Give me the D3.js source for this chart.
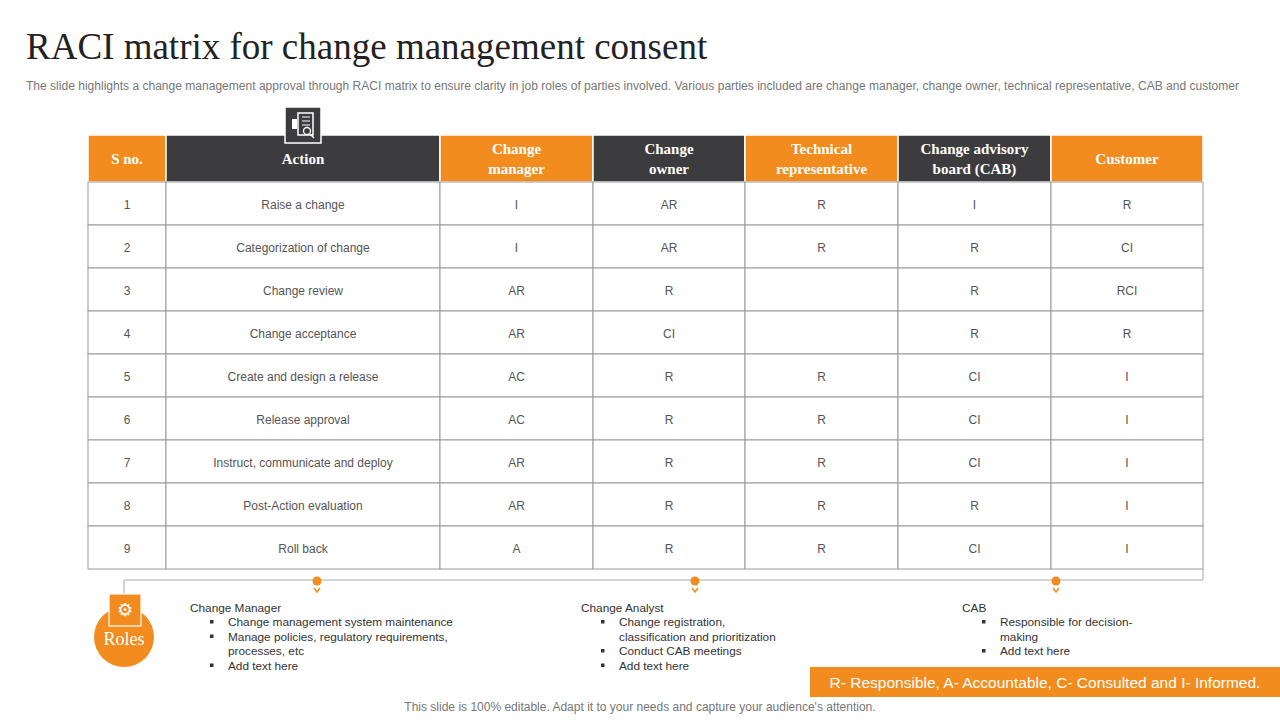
<!DOCTYPE html>
<html><head><meta charset="utf-8">
<script src="https://cdn.jsdelivr.net/npm/d3@7"></script>
<style>body{margin:0;background:#fff}svg{display:block}</style>
</head><body>
<svg id="c" width="1280" height="720"></svg>
<script>
// table data
const headers = [["S no."], ["Action"], ["Change", "manager"], ["Change", "owner"], ["Technical", "representative"], ["Change advisory", "board (CAB)"], ["Customer"]];
const headerDark = [false, true, false, true, false, true, false];
const actions = ["Raise a change", "Categorization of change", "Change review", "Change acceptance",
  "Create and design a release", "Release approval", "Instruct, communicate and deploy", "Post-Action evaluation", "Roll back"];
const changeManager = ["I", "I", "AR", "AR", "AC", "AC", "AR", "AR", "A"];
const changeOwner = ["AR", "AR", "R", "CI", "R", "R", "R", "R", "R"];
const technicalRep = ["R", "R", "", "", "R", "R", "R", "R", "R"];
const cab = ["I", "R", "R", "R", "CI", "CI", "CI", "R", "CI"];
const customer = ["R", "CI", "RCI", "R", "I", "I", "I", "I", "I"];
const roles = [
  {title: "Change Manager", items: [["Change management system maintenance"], ["Manage policies, regulatory requirements,", "processes, etc"], ["Add text here"]]},
  {title: "Change Analyst", items: [["Change registration,", "classification and prioritization"], ["Conduct CAB meetings"], ["Add text here"]]},
  {title: "CAB", items: [["Responsible for decision-", "making"], ["Add text here"]]}
];

const ORANGE = "#f28c1e", DARK = "#3c3c3e";
const svg = d3.select("#c");
const sans = "Arial, 'Liberation Sans', sans-serif", serif = "'Times New Roman', 'Liberation Serif', serif";

svg.append("text").attr("x", 26).attr("y", 59).attr("font-family", serif).attr("font-size", 37).attr("fill", "#222")
  .text("RACI matrix for change management consent");
svg.append("text").attr("x", 26).attr("y", 90).attr("font-family", sans).attr("font-size", 12).attr("fill", "#777")
  .attr("textLength", 1213).attr("lengthAdjust", "spacingAndGlyphs")
  .text("The slide highlights a change management approval through RACI matrix to ensure clarity in job roles of parties involved. Various parties included are change manager, change owner, technical representative, CAB and customer");

// column edges
const edges = [88, 166, 440, 593, 745, 898, 1051, 1203];
const headTop = 135, headBot = 182, tableBot = 569;
const y = d3.scaleBand().domain(d3.range(actions.length)).range([headBot, tableBot]);

const rows = actions.map((a, i) => [String(i + 1), a, changeManager[i], changeOwner[i], technicalRep[i], cab[i], customer[i]]);

const head = svg.append("g");
headers.forEach((h, j) => {
  const x0 = edges[j], x1 = edges[j + 1], cx = (x0 + x1) / 2;
  head.append("rect").attr("x", x0).attr("y", headTop).attr("width", x1 - x0).attr("height", headBot - headTop)
    .attr("fill", headerDark[j] ? DARK : ORANGE).attr("stroke", "#fff").attr("stroke-width", 1.5);
  const t = head.append("text").attr("text-anchor", "middle").attr("font-family", serif).attr("font-weight", "bold")
    .attr("font-size", 15).attr("fill", "#fff");
  const y0 = (headTop + headBot) / 2 + 5 - (h.length - 1) * 10;
  h.forEach((line, k) => t.append("tspan").attr("x", cx).attr("y", y0 + k * 20).text(line));
});

const body = svg.append("g");
rows.forEach((r, i) => {
  r.forEach((v, j) => {
    const x0 = edges[j], x1 = edges[j + 1];
    body.append("rect").attr("x", x0).attr("y", y(i)).attr("width", x1 - x0).attr("height", y.bandwidth())
      .attr("fill", "#fff").attr("stroke", "#9a9a9a").attr("stroke-width", 1);
    body.append("text").attr("x", (x0 + x1) / 2).attr("y", y(i) + y.bandwidth() / 2 + 5).attr("text-anchor", "middle")
      .attr("font-family", sans).attr("font-size", 12).attr("fill", "#555").text(v);
  });
});

// icon on Action header
const ic = svg.append("g").attr("transform", "translate(285,107)");
ic.append("rect").attr("width", 36).attr("height", 36).attr("fill", DARK).attr("stroke", "#fff").attr("stroke-width", 1.5);
ic.append("rect").attr("x", 13).attr("y", 6).attr("width", 15).attr("height", 22).attr("fill", "none").attr("stroke", "#fff").attr("stroke-width", 1.5);
ic.append("rect").attr("x", 7).attr("y", 12).attr("width", 5).attr("height", 10).attr("fill", "#fff");
[10, 14, 18].forEach(yy => ic.append("line").attr("x1", 17).attr("x2", 25).attr("y1", yy).attr("y2", yy).attr("stroke", "#fff"));
ic.append("circle").attr("cx", 22).attr("cy", 24).attr("r", 3.5).attr("fill", "none").attr("stroke", "#fff").attr("stroke-width", 1.3);
ic.append("line").attr("x1", 25).attr("y1", 27).attr("x2", 29).attr("y2", 31).attr("stroke", "#fff").attr("stroke-width", 1.5);

// roles connector line
svg.append("path").attr("d", "M1203,569 V580 H124 V596").attr("fill", "none").attr("stroke", "#aaa").attr("stroke-width", 1);
[317, 695, 1056].forEach(cx => {
  svg.append("circle").attr("cx", cx).attr("cy", 581).attr("r", 4.5).attr("fill", ORANGE);
  svg.append("path").attr("d", `M${cx - 3},588 L${cx},592 L${cx + 3},588`).attr("fill", "none").attr("stroke", ORANGE).attr("stroke-width", 1.5);
});
svg.append("circle").attr("cx", 124).attr("cy", 637).attr("r", 30).attr("fill", ORANGE);
svg.append("rect").attr("x", 109).attr("y", 594).attr("width", 32).attr("height", 32).attr("fill", ORANGE).attr("stroke", "#fff").attr("stroke-width", 1.2);
svg.append("text").attr("x", 125).attr("y", 616).attr("text-anchor", "middle").attr("font-size", 18).attr("fill", "#fff").text("⚙");
svg.append("text").attr("x", 124).attr("y", 645).attr("text-anchor", "middle").attr("font-family", serif).attr("font-size", 18).attr("fill", "#fff").text("Roles");

const roleX = [190, 581, 962];
roles.forEach((r, k) => {
  const g = svg.append("g").attr("transform", `translate(${roleX[k]},0)`).attr("font-family", sans).attr("font-size", 11.8).attr("fill", "#333");
  g.append("text").attr("x", 0).attr("y", 612).text(r.title);
  let yy = 626;
  r.items.forEach(lines => {
    g.append("rect").attr("x", 20).attr("y", yy - 6).attr("width", 3.5).attr("height", 3.5).attr("fill", "#333");
    lines.forEach(l => { g.append("text").attr("x", 38).attr("y", yy).text(l); yy += 14.5; });
  });
});

svg.append("rect").attr("x", 810).attr("y", 667).attr("width", 470).attr("height", 30).attr("fill", ORANGE);
svg.append("text").attr("x", 1045).attr("y", 688).attr("text-anchor", "middle").attr("font-family", sans).attr("font-size", 15.5).attr("fill", "#fff")
  .text("R- Responsible, A- Accountable, C- Consulted and I- Informed.");
svg.append("text").attr("x", 640).attr("y", 711).attr("text-anchor", "middle").attr("font-family", sans).attr("font-size", 12).attr("fill", "#777")
  .text("This slide is 100% editable. Adapt it to your needs and capture your audience's attention.");
</script>
</body></html>
